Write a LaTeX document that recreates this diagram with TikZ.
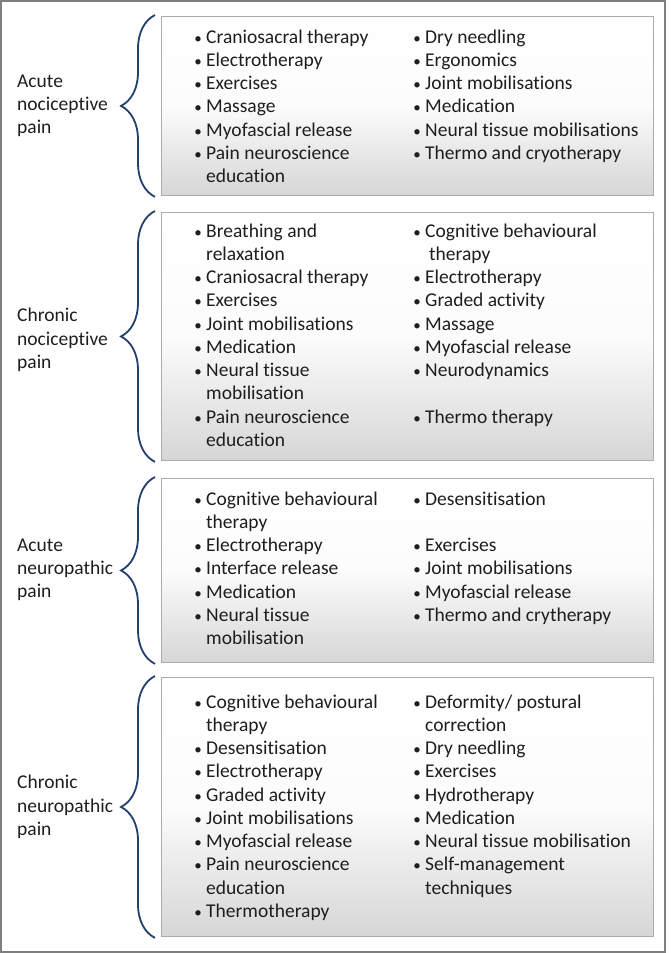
\documentclass[tikz,border=0pt]{standalone}
\usepackage{fontspec}
\setmainfont{Carlito}[RawFeature={-liga}]
\usetikzlibrary{decorations.pathreplacing}
\definecolor{bracecol}{HTML}{233F6B}
\definecolor{framecol}{HTML}{7F7F7F}
\definecolor{boxcol}{HTML}{ABABAB}
\definecolor{shadecol}{HTML}{D6D6D6}
\definecolor{txtcol}{HTML}{1E1E1E}
\tikzset{
  listbox/.style={draw=boxcol,line width=0.9pt,top color=white,bottom color=shadecol,
    middle color=white!92!shadecol,anchor=north west,inner sep=0pt,minimum width=492pt},
  item/.style={anchor=base west,inner sep=0pt,text height=12pt,text depth=4pt},
  bitem/.style={item,label={[bul]left:\textbullet}},
  bul/.style={inner sep=0pt,text height=12pt,text depth=4pt,font=\fontsize{15}{15}\selectfont},
  grouplabel/.style={anchor=west,align=left,inner sep=0pt},
  curly/.style={draw=bracecol,line width=1.8pt,decorate,decoration={brace,amplitude=34pt}}
}
\begin{document}
\begin{tikzpicture}[x=1pt,y=-1pt,font=\fontsize{19.5}{23.25}\selectfont,text=txtcol,label distance=4pt]
\useasboundingbox (0,0) rectangle (670,953);
\draw[framecol,line width=1.2pt] (1,1) rectangle (665,952);

% acute nociceptive
\node[listbox,minimum height=179pt] (b1) at (161,16) {};
\node[grouplabel] (g1) at (17,106) {Acute\\nociceptive\\pain};
\draw[curly] ([xshift=-6pt,yshift=-1pt]b1.south west) -- ([xshift=-6pt,yshift=1pt]b1.north west);
\foreach \r/\s/\t in {0/bitem/Craniosacral therapy,1/bitem/Electrotherapy,2/bitem/Exercises,
  3/bitem/Massage,4/bitem/Myofascial release,5/bitem/Pain neuroscience,6/item/education}
  \node[\s] (la\r) at (206,43+23.25*\r) {\t};
\foreach \r/\s/\t in {0/bitem/Dry needling,1/bitem/Ergonomics,2/bitem/Joint mobilisations,
  3/bitem/Medication,4/bitem/Neural tissue mobilisations,5/bitem/Thermo and cryotherapy}
  \node[\s] (ra\r) at (425,43+23.25*\r) {\t};

% chronic nociceptive
\node[listbox,minimum height=248pt] (b2) at (161,212) {};
\node[grouplabel] (g2) at (17,340) {Chronic\\nociceptive\\pain};
\draw[curly] ([xshift=-6pt,yshift=-1pt]b2.south west) -- ([xshift=-6pt,yshift=1pt]b2.north west);
\foreach \r/\s/\t in {0/bitem/Breathing and,1/item/relaxation,2/bitem/Craniosacral therapy,
  3/bitem/Exercises,4/bitem/Joint mobilisations,5/bitem/Medication,6/bitem/Neural tissue,
  7/item/mobilisation,8/bitem/Pain neuroscience,9/item/education}
  \node[\s] (lb\r) at (206,237+23.25*\r) {\t};
\foreach \r/\s/\t in {0/bitem/Cognitive behavioural,2/bitem/Electrotherapy,3/bitem/Graded activity,
  4/bitem/Massage,5/bitem/Myofascial release,6/bitem/Neurodynamics,8/bitem/Thermo therapy}
  \node[\s] (rb\r) at (425,237+23.25*\r) {\t};
\node[item] (rb1) at (429,237+23.25) {therapy};

% acute neuropathic
\node[listbox,minimum height=184pt] (b3) at (161,478) {};
\node[grouplabel] (g3) at (17,570) {Acute\\neuropathic\\pain};
\draw[curly] ([xshift=-6pt,yshift=-1pt]b3.south west) -- ([xshift=-6pt,yshift=1pt]b3.north west);
\foreach \r/\s/\t in {0/bitem/Cognitive behavioural,1/item/therapy,2/bitem/Electrotherapy,
  3/bitem/Interface release,4/bitem/Medication,5/bitem/Neural tissue,6/item/mobilisation}
  \node[\s] (lc\r) at (206,505+23.25*\r) {\t};
\foreach \r/\s/\t in {0/bitem/Desensitisation,2/bitem/Exercises,3/bitem/Joint mobilisations,
  4/bitem/Myofascial release,5/bitem/Thermo and crytherapy}
  \node[\s] (rc\r) at (425,505+23.25*\r) {\t};

% chronic neuropathic
\node[listbox,minimum height=259pt] (b4) at (161,677) {};
\node[grouplabel] (g4) at (17,807) {Chronic\\neuropathic\\pain};
\draw[curly] ([xshift=-6pt,yshift=-1pt]b4.south west) -- ([xshift=-6pt,yshift=1pt]b4.north west);
\foreach \r/\s/\t in {0/bitem/Cognitive behavioural,1/item/therapy,2/bitem/Desensitisation,
  3/bitem/Electrotherapy,4/bitem/Graded activity,5/bitem/Joint mobilisations,
  6/bitem/Myofascial release,7/bitem/Pain neuroscience,8/item/education,9/bitem/Thermotherapy}
  \node[\s] (ld\r) at (206,708+23.25*\r) {\t};
\foreach \r/\s/\t in {0/bitem/{Deformity/ postural},1/item/correction,2/bitem/Dry needling,
  3/bitem/Exercises,4/bitem/Hydrotherapy,5/bitem/Medication,6/bitem/Neural tissue mobilisation,
  7/bitem/Self-management,8/item/techniques}
  \node[\s] (rd\r) at (425,708+23.25*\r) {\t};
\end{tikzpicture}
\end{document}
